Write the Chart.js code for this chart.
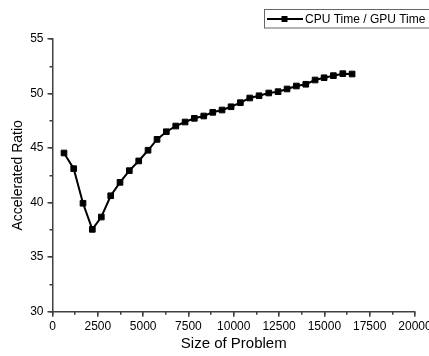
<!DOCTYPE html>
<html>
<head>
<meta charset="utf-8">
<script src="https://cdn.jsdelivr.net/npm/chart.js@4.4.0/dist/chart.umd.min.js"></script>
<style>
  html, body { margin: 0; padding: 0; background: #fff; overflow: hidden; }
  #wrap { position: relative; width: 440px; height: 356px; }
</style>
</head>
<body>
<div id="wrap"><canvas id="ratioChart"></canvas></div>
<script>
// data
const problemSizes = [635, 1170, 1683, 2197, 2693, 3212, 3725, 4239, 4757, 5271, 5767, 6281, 6800, 7313, 7826, 8345,
                      8842, 9355, 9852, 10365, 10884, 11397, 11932, 12446, 12942, 13456, 13974, 14488, 14985, 15498, 16017, 16529];
const accelRatio = [44.55, 43.11, 39.94, 37.55, 38.68, 40.63, 41.86, 42.93, 43.82, 44.80, 45.80, 46.50, 47.02, 47.39, 47.73, 47.94,
                    48.28, 48.49, 48.79, 49.16, 49.59, 49.80, 50.05, 50.17, 50.42, 50.69, 50.85, 51.24, 51.45, 51.64, 51.82, 51.79];
const seriesLabel = "CPU Time / GPU Time";

const FONT = '"Liberation Sans", Arial, sans-serif';
const AXIS = "#404040";

// Origin-style framed legend, top right
const legendBox = {
    id: "legendBox",
    afterDraw(chart) {
        const ctx = chart.ctx;
        const ds = chart.data.datasets[0];
        ctx.save();
        ctx.strokeStyle = "#666";
        ctx.lineWidth = 1;
        ctx.strokeRect(264.5, 9.5, 180, 18.5);
        ctx.strokeStyle = ds.borderColor;
        ctx.lineWidth = 2;
        ctx.beginPath();
        ctx.moveTo(267, 19);
        ctx.lineTo(303, 19);
        ctx.stroke();
        ctx.fillStyle = ds.pointBackgroundColor;
        ctx.fillRect(281.5, 16, 6, 6);
        ctx.fillStyle = "#000";
        ctx.font = "12px " + FONT;
        ctx.textBaseline = "middle";
        ctx.fillText(ds.label, 305, 19.5);
        ctx.restore();
    }
};

const ctx = document.getElementById("ratioChart").getContext("2d");
let ratioChart = new Chart(ctx, {
    type: "line",
    data: {
        datasets: [{
            label: seriesLabel,
            data: problemSizes.map((x, i) => ({ x: x, y: accelRatio[i] })),
            borderColor: "#000",
            borderWidth: 2,
            pointStyle: "rect",
            pointRadius: 4,
            pointBorderWidth: 1,
            pointBackgroundColor: "#000",
            pointBorderColor: "#000",
            tension: 0,
            xAxisID: "x",
            yAxisID: "y"
        }]
    },
    options: {
        responsive: true,
        maintainAspectRatio: false,
        animation: false,
        devicePixelRatio: 1,
        layout: { padding: { top: 39, right: 25, bottom: 0, left: 0 } },
        plugins: { legend: { display: false }, tooltip: { enabled: false } },
        scales: {
            x: {
                type: "linear", position: "bottom", min: 0, max: 20000,
                ticks: { stepSize: 2500, autoSkip: false, maxRotation: 0, color: "#000", font: { family: FONT, size: 12 }, padding: 3,
                         callback: v => String(v) },
                grid: { drawOnChartArea: false, tickLength: 5, color: AXIS, lineWidth: 1.5 },
                border: { color: AXIS, width: 1.5 },
                title: { display: true, text: "Size of Problem", color: "#000", font: { family: FONT, size: 15 }, padding: { top: 0, bottom: 3 } },
                afterFit: s => { s.height = 44.3; s.paddingLeft = 0; s.paddingRight = 0; }
            },
            xMinor: {
                type: "linear", position: "bottom", weight: -1, min: 0, max: 20000,
                ticks: { stepSize: 1250, display: false },
                grid: { drawOnChartArea: false, tickLength: 3, color: AXIS, lineWidth: 1.5 },
                border: { display: false },
                afterFit: s => { s.height = 0; s.paddingLeft = 0; s.paddingRight = 0; }
            },
            y: {
                type: "linear", position: "left", min: 30, max: 55,
                ticks: { stepSize: 5, color: "#000", font: { family: FONT, size: 12 }, padding: 4, callback: v => String(v) },
                grid: { drawOnChartArea: false, tickLength: 5, color: AXIS, lineWidth: 1.5 },
                border: { color: AXIS, width: 1.5 },
                title: { display: true, text: "Accelerated Ratio", color: "#000", font: { family: FONT, size: 14 }, padding: { top: 10, bottom: 0 } },
                afterFit: s => { s.width = 52.5; s.paddingTop = 0; s.paddingBottom = 0; }
            },
            yMinor: {
                type: "linear", position: "left", weight: -1, min: 30, max: 55,
                ticks: { stepSize: 2.5, display: false },
                grid: { drawOnChartArea: false, tickLength: 3, color: AXIS, lineWidth: 1.5 },
                border: { display: false },
                afterFit: s => { s.width = 0; s.paddingTop = 0; s.paddingBottom = 0; }
            }
        }
    },
    plugins: [legendBox]
});
</script>
</body>
</html>
